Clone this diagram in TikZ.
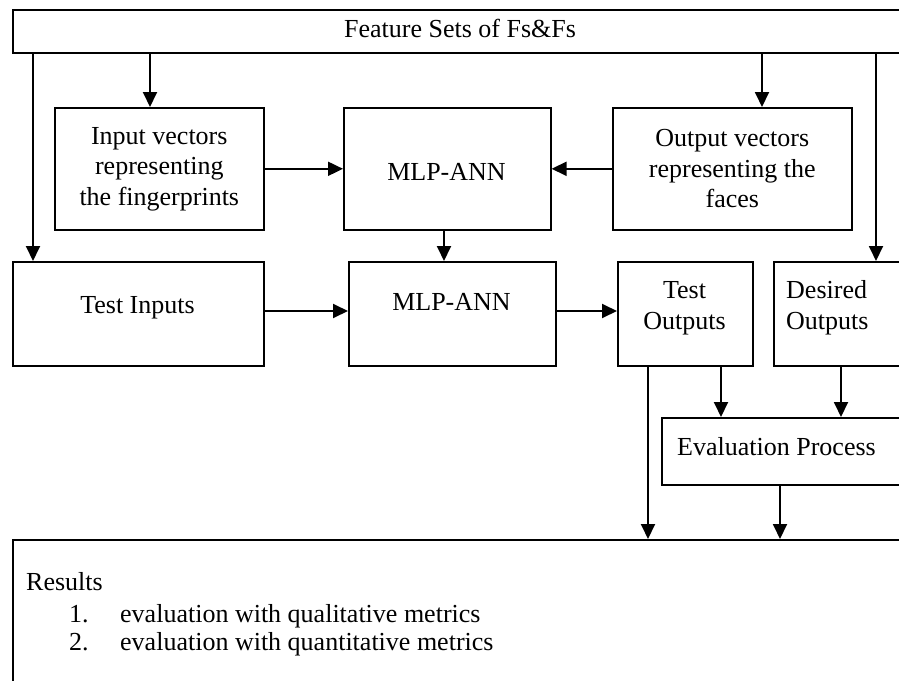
\documentclass[tikz,border=0pt]{standalone}
\usepackage{fontspec}
\setmainfont{Liberation Serif}
\usetikzlibrary{arrows.meta}
\begin{document}
\begin{tikzpicture}[x=1pt,y=-1pt,
  box/.style={draw, line width=1.6pt, rectangle, inner sep=0pt, anchor=north west},
  lbl/.style={inner sep=0pt, font=\fontsize{26}{30.5}\selectfont},
  arr/.style={line width=1.9pt, -{Triangle[length=15pt,width=14pt]}}]
\useasboundingbox (0,0) rectangle (899,680);
\clip (0,0) rectangle (899,680);

% boxes
\node[box, minimum width=896pt, minimum height=43pt] (top) at (12,9) {};
\node[box, lbl, align=center, minimum width=209pt, minimum height=122pt] (inp) at (54,107)
  {Input vectors\\representing\\the fingerprints};
\node[box, minimum width=207pt, minimum height=122pt] (mlp1) at (343,107) {};
\node[box, lbl, align=center, minimum width=239pt, minimum height=122pt] (outv) at (612,107)
  {Output vectors\\representing the\\faces};
\node[box, minimum width=251pt, minimum height=104pt] (tin) at (12,261) {};
\node[box, minimum width=207pt, minimum height=104pt] (mlp2) at (348,261) {};
\node[box, minimum width=135pt, minimum height=104pt] (tout) at (617,261) {};
\node[box, minimum width=140pt, minimum height=104pt] (des) at (773,261) {};
\node[box, minimum width=250pt, minimum height=67pt] (eval) at (661,417) {};
\node[box, minimum width=900pt, minimum height=160pt] (res) at (12,539) {};

% labels
\node[lbl, anchor=base] (topT) at (460,37) {Feature Sets of Fs\&Fs};
\node[lbl, anchor=base] (mlp1T) at (446.5,180) {MLP-ANN};
\node[lbl, anchor=base] (tinT) at (137.5,313) {Test Inputs};
\node[lbl, anchor=base] (mlp2T) at (451.5,310) {MLP-ANN};
\node[lbl, anchor=base] (toutA) at (684.5,298) {Test};
\node[lbl, anchor=base] (toutB) at (684.5,329) {Outputs};
\node[lbl, anchor=base west] (desA) at (786,298) {Desired};
\node[lbl, anchor=base west] (desB) at (786,329) {Outputs};
\node[lbl, anchor=base west] (evalT) at (677,455) {Evaluation Process};
\node[lbl, anchor=base west] (resT) at (26,590) {Results};
\node[lbl, anchor=base west] (resN1) at (69,622) {1.};
\node[lbl, anchor=base west] (resL1) at (120,622) {evaluation with qualitative metrics};
\node[lbl, anchor=base west] (resN2) at (69,650) {2.};
\node[lbl, anchor=base west] (resL2) at (120,650) {evaluation with quantitative metrics};

% x and y positions of the connectors
\coordinate (xa) at (33,0);
\coordinate (xb) at (150,0);
\coordinate (xc) at (762,0);
\coordinate (xd) at (876,0);
\coordinate (xi) at (444,0);
\coordinate (xe) at (648,0);
\coordinate (xf) at (721,0);
\coordinate (xg) at (841,0);
\coordinate (xh) at (780,0);
\coordinate (yb) at (0,311);

% connectors
\draw[arr] (top.south -| xa) -- (tin.north -| xa);
\draw[arr] (top.south -| xb) -- (inp.north -| xb);
\draw[arr] (top.south -| xc) -- (outv.north -| xc);
\draw[arr] (top.south -| xd) -- (des.north -| xd);
\draw[arr] (inp.east) -- (mlp1.west);
\draw[arr] (outv.west) -- (mlp1.east);
\draw[arr] (mlp1.south -| xi) -- (mlp2.north -| xi);
\draw[arr] (tin.east |- yb) -- (mlp2.west |- yb);
\draw[arr] (mlp2.east |- yb) -- (tout.west |- yb);
\draw[arr] (tout.south -| xe) -- (res.north -| xe);
\draw[arr] (tout.south -| xf) -- (eval.north -| xf);
\draw[arr] (des.south -| xg) -- (eval.north -| xg);
\draw[arr] (eval.south -| xh) -- (res.north -| xh);
\end{tikzpicture}
\end{document}
